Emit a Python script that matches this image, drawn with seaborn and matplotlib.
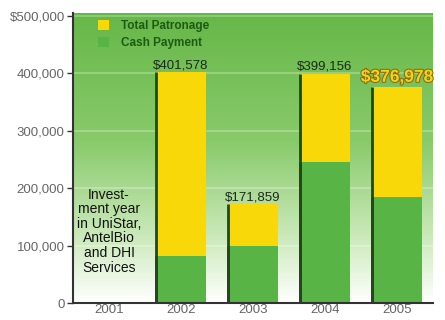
import numpy as np
import pandas as pd
import matplotlib
matplotlib.use("Agg")
import matplotlib.pyplot as plt
import matplotlib.patheffects as pe
from matplotlib.colors import LinearSegmentedColormap
from matplotlib.patches import Patch
import seaborn as sns

years = ["2001", "2002", "2003", "2004", "2005"]
total_patronage = [0, 401578, 171859, 399156, 376978]
cash_payment = [0, 82000, 100000, 246000, 184000]
total_labels = ["", "$401,578", "$171,859", "$399,156", "$376,978"]
y_ticks = [0, 100000, 200000, 300000, 400000, 500000]
y_tick_labels = ["0", "100,000", "200,000", "300,000", "400,000", "$500,000"]
note_2001 = "Invest-\nment year\nin UniStar,\nAntelBio\nand DHI\nServices"

YELLOW = "#f9d80a"
GREEN = "#58b444"

df = pd.DataFrame({"year": years, "total": total_patronage, "cash": cash_payment})

sns.set_theme(style="white")
plt.rcParams["font.family"] = ["Liberation Sans", "DejaVu Sans"]

fig = plt.figure(figsize=(4.45, 3.2), dpi=100)
ax = fig.add_axes([73 / 445, 1 - 303 / 320, 360 / 445, 290 / 320])

# green-to-white background gradient
grad = np.linspace(0, 1, 256).reshape(-1, 1)
cmap = LinearSegmentedColormap.from_list(
    "bg", [(0.0, "#ffffff"), (0.22, "#cdeabd"), (0.55, "#8acb6c"), (1.0, "#66b748")]
)
ax.imshow(grad, aspect="auto", cmap=cmap, origin="lower",
          extent=[0, 1, 0, 1], transform=ax.transAxes, zorder=0)

for t in y_ticks[1:]:
    ax.axhline(t, color="white", alpha=0.3, lw=1.2, zorder=1)

sns.barplot(data=df, x="year", y="total", order=years, color=YELLOW,
            width=0.7, saturation=1, linewidth=0, ax=ax, zorder=3)
sns.barplot(data=df, x="year", y="cash", order=years, color=GREEN,
            width=0.7, saturation=1, linewidth=0, ax=ax, zorder=4)

# dark shading along the left edge of every bar
for p in ax.patches:
    if p.get_height() > 0:
        ax.plot([p.get_x(), p.get_x()], [0, p.get_height()],
                color="#1f4a14", lw=2, zorder=5, solid_capstyle="butt")

for i, (v, lab) in enumerate(zip(total_patronage, total_labels)):
    if not lab:
        continue
    if i == len(years) - 1:
        ax.text(i, v + 3000, lab, ha="center", va="bottom", fontsize=12.5,
                fontweight="bold", color="#f5d21a", zorder=6,
                path_effects=[pe.withStroke(linewidth=1.5, foreground="#8a6a10")])
    else:
        ax.text(i, v + 2000, lab, ha="center", va="bottom", fontsize=9.5,
                color="#1a2a1a", zorder=6)

ax.text(0, 125000, note_2001, ha="center", va="center", fontsize=10,
        color="#111111", linespacing=1.05, zorder=6)

ax.set_xlim(-0.5, 4.5)
ax.set_ylim(0, 505000)
ax.set_yticks(y_ticks)
ax.set_yticklabels(y_tick_labels)
ax.set_xlabel("")
ax.set_ylabel("")
ax.tick_params(axis="y", labelsize=9.5, labelcolor="#666666", length=4,
               width=1, color="#333333", left=True, pad=2)
ax.tick_params(axis="x", labelsize=9.5, labelcolor="#666666", length=0, pad=1)

for s in ["top", "right"]:
    ax.spines[s].set_visible(False)
for s in ["left", "bottom"]:
    ax.spines[s].set_color("#333333")
    ax.spines[s].set_linewidth(1.5)
    ax.spines[s].set_zorder(7)

handles = [Patch(facecolor=YELLOW, edgecolor="none"),
           Patch(facecolor=GREEN, edgecolor="none")]
leg = ax.legend(handles, ["Total Patronage", "Cash Payment"], loc="upper left",
                frameon=False, fontsize=8.5, handlelength=0.9, handleheight=0.9,
                handletextpad=1.0, borderaxespad=0.2, labelspacing=0.45,
                bbox_to_anchor=(0.05, 1.0))
for t in leg.get_texts():
    t.set_color("#1d5a14")
    t.set_fontweight("bold")

fig.savefig("out.png", dpi=100)
